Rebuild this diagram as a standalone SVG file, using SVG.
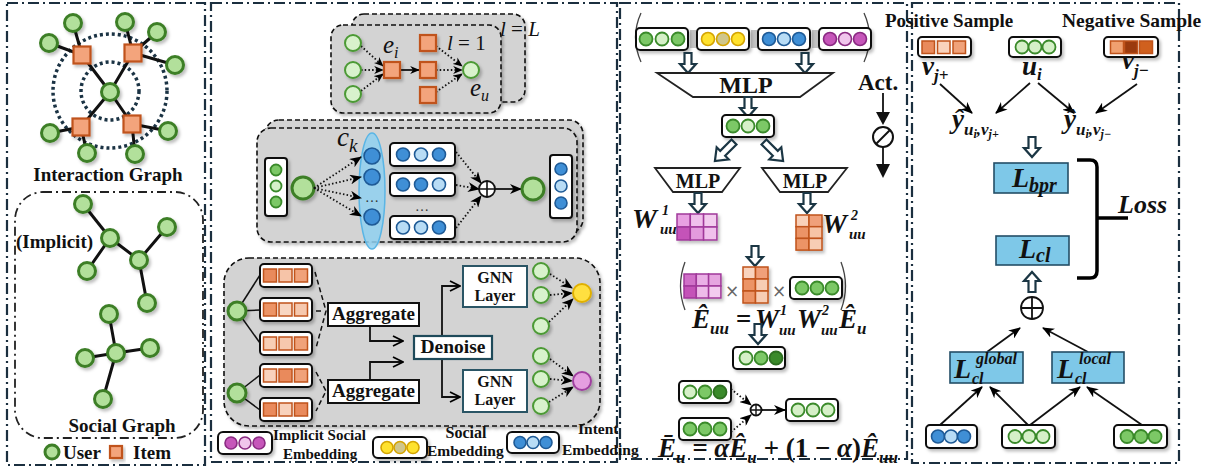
<svg xmlns="http://www.w3.org/2000/svg" width="1211" height="470" viewBox="0 0 1211 470">
<defs>
  <style>
    .pb{fill:none;stroke:#1b2f3f;stroke-width:2.2;stroke-dasharray:11 4 2 4}
    .sb{fill:none;stroke:#222;stroke-width:1.8;stroke-dasharray:9 4 2 4}
    .gb{fill:#d3d3d3;stroke:#111;stroke-width:1.6;stroke-dasharray:5 3}
    .ed{stroke:#111;stroke-width:3;stroke-linecap:round}
    .U{fill:#b2e09b;stroke:#3d7f27;stroke-width:3}
    .I{fill:#f3a47c;stroke:#c0531b;stroke-width:2.2}
    .lg{fill:#d8f2cc;stroke:#4c9a35;stroke-width:2}
    .vb{fill:#fff;stroke:#111;stroke-width:2}
    .t{font-family:"Liberation Serif",serif;font-weight:bold;fill:#111}
    .m{font-family:"Liberation Serif",serif;font-style:italic;font-weight:bold;fill:#111}
    .mi{font-family:"Liberation Serif",serif;font-style:italic;fill:#111}
    .up{font-style:normal}
    .dt{fill:none;stroke:#111;stroke-width:1.8;stroke-dasharray:1.5 2.2}
    .sl{fill:none;stroke:#111;stroke-width:1.8}
    .ha{fill:#fff;stroke:#1b3644;stroke-width:2.2}
    .gm{fill:#7cc866;stroke:#3a8a2a;stroke-width:1.8}
    .gl{fill:#d6f0c8;stroke:#3a8a2a;stroke-width:1.8}
    .gd{fill:#3a8a2a;stroke:#2d6e20;stroke-width:1.8}
    .bm{fill:#3f8fd6;stroke:#1e5a96;stroke-width:1.6}
    .bl{fill:#b8dcf5;stroke:#1e5a96;stroke-width:1.6}
    .ym{fill:#ffe22e;stroke:#d4a400;stroke-width:1.6}
    .yk{fill:#cfc68c;stroke:#d4a400;stroke-width:1.6}
    .pm{fill:#c656ba;stroke:#8a2a82;stroke-width:1.6}
    .pl{fill:#f0c6ec;stroke:#8a2a82;stroke-width:1.6}
    .sq{stroke:#c0531b;stroke-width:1.5}
    .mp{stroke:#a0399a;stroke-width:1.5}
    .bx{fill:#7ec8e8;stroke:#234e66;stroke-width:1.6}
    .op{fill:#fff;stroke:#111;stroke-width:1.8}
    .gnn{fill:#fff;stroke:#2a5565;stroke-width:2}
    .sep{stroke:#777;stroke-width:0.9}
  </style>
  <marker id="ar" viewBox="0 0 12 10" refX="11" refY="5" markerWidth="12" markerHeight="10" markerUnits="userSpaceOnUse" orient="auto"><path d="M0,0 L12,5 L0,10 L3.5,5 Z" fill="#000"/></marker>
  <marker id="ars" viewBox="0 0 12 10" refX="11" refY="5" markerWidth="10" markerHeight="8" markerUnits="userSpaceOnUse" orient="auto"><path d="M0,0 L12,5 L0,10 L3.5,5 Z" fill="#000"/></marker>
  <marker id="chev" viewBox="0 0 12 12" refX="11" refY="6" markerWidth="12" markerHeight="12" markerUnits="userSpaceOnUse" orient="auto"><path d="M1,1 L11,6 L1,11" fill="none" stroke="#000" stroke-width="1.8"/></marker>
  <path id="ha" d="M-3.5,0 H3.5 V11 H8 L0,20 L-8,11 H-3.5 Z"/>
  <path id="ha2" d="M-3.5,0 H3.5 V16 H8.5 L0,27 L-8.5,16 H-3.5 Z"/>
  <filter id="sh" x="-20%" y="-20%" width="150%" height="170%"><feDropShadow dx="2" dy="2.5" stdDeviation="1.8" flood-color="#000" flood-opacity="0.25"/></filter>
</defs>
<rect width="1211" height="470" fill="#fff"/>

<!-- panel frames -->
<g id="frames">
  <rect class="pb" x="7" y="3" width="198" height="462"/>
  <rect class="pb" x="211" y="3" width="406" height="459"/>
  <rect class="pb" x="620" y="3" width="287" height="456"/>
  <rect class="pb" x="912" y="3" width="267" height="460"/>
</g>

<!-- ===== panel 1: graphs ===== -->
<g id="interaction-graph">
  <circle cx="110" cy="91" r="57" fill="none" stroke="#1b3344" stroke-width="3.5" stroke-dasharray="3 3"/>
  <circle cx="110" cy="91" r="29" fill="none" stroke="#1b3344" stroke-width="3.5" stroke-dasharray="3 3"/>
  <g class="ed">
    <line x1="82" y1="55" x2="73" y2="23"/><line x1="82" y1="55" x2="49" y2="43"/><line x1="82" y1="55" x2="110" y2="92"/>
    <line x1="133" y1="53" x2="125" y2="22"/><line x1="133" y1="53" x2="157" y2="32"/><line x1="133" y1="53" x2="175" y2="65"/><line x1="133" y1="53" x2="110" y2="92"/>
    <line x1="81" y1="127" x2="50" y2="133"/><line x1="81" y1="127" x2="87" y2="153"/><line x1="81" y1="127" x2="110" y2="92"/>
    <line x1="132" y1="124" x2="168" y2="131"/><line x1="132" y1="124" x2="135" y2="154"/><line x1="132" y1="124" x2="110" y2="92"/>
  </g>
  <g class="U" filter="url(#sh)">
    <circle cx="110" cy="92" r="8.5"/>
    <circle cx="73" cy="23" r="8.5"/><circle cx="125" cy="22" r="8.5"/><circle cx="157" cy="32" r="8.5"/><circle cx="175" cy="65" r="8.5"/>
    <circle cx="49" cy="43" r="8.5"/><circle cx="50" cy="133" r="8.5"/><circle cx="87" cy="153" r="8.5"/><circle cx="135" cy="154" r="8.5"/><circle cx="168" cy="131" r="8.5"/>
  </g>
  <g class="I" filter="url(#sh)">
    <rect x="73.5" y="46.5" width="17" height="17"/><rect x="124.5" y="44.5" width="17" height="17"/>
    <rect x="72.5" y="118.5" width="17" height="17"/><rect x="123.5" y="115.5" width="17" height="17"/>
  </g>
  <text class="t" x="108" y="181" font-size="19" text-anchor="middle">Interaction Graph</text>
</g>

<g id="social-graph">
  <rect class="sb" x="15" y="192" width="188" height="246" rx="28"/>
  <text class="t" x="16" y="248" font-size="19">(Implicit)</text>
  <g class="ed">
    <line x1="83" y1="204" x2="110" y2="238"/><line x1="110" y1="238" x2="87" y2="271"/><line x1="110" y1="238" x2="139" y2="260"/>
    <line x1="139" y1="260" x2="167" y2="227"/><line x1="139" y1="260" x2="147" y2="303"/>
    <line x1="116" y1="353" x2="109" y2="314"/><line x1="116" y1="353" x2="150" y2="348"/><line x1="116" y1="353" x2="85" y2="358"/><line x1="116" y1="353" x2="103" y2="399"/>
  </g>
  <g class="U" filter="url(#sh)">
    <circle cx="83" cy="204" r="8.5"/><circle cx="110" cy="238" r="8.5"/><circle cx="167" cy="227" r="8.5"/><circle cx="139" cy="260" r="8.5"/><circle cx="87" cy="271" r="8.5"/><circle cx="147" cy="303" r="8.5"/>
    <circle cx="109" cy="314" r="8.5"/><circle cx="116" cy="353" r="8.5"/><circle cx="150" cy="348" r="8.5"/><circle cx="85" cy="358" r="8.5"/><circle cx="103" cy="399" r="8.5"/>
  </g>
  <text class="t" x="122" y="432" font-size="19" text-anchor="middle">Social Graph</text>
</g>

<g id="legend-graph">
  <circle cx="52" cy="452" r="7" class="U" stroke-width="2.5"/>
  <text class="t" x="63" y="459" font-size="19">User</text>
  <rect x="110" y="446" width="12" height="12" class="I" filter="url(#sh)"/>
  <text class="t" x="133" y="459" font-size="19">Item</text>
</g>

<!-- ===== panel 2: encoder ===== -->
<g id="propagation">
  <rect class="gb" x="352" y="14" width="173" height="88" rx="12" filter="url(#sh)"/>
  <rect class="gb" x="331" y="25" width="170" height="88" rx="12" filter="url(#sh)"/>
  <text class="mi" x="500" y="36" font-size="21">l<tspan class="up"> = </tspan>L</text>
  <text class="mi" x="447" y="50" font-size="21">l<tspan class="up"> = 1</tspan></text>
  <text class="mi" x="383" y="53" font-size="25">e<tspan font-size="16" y="58">i</tspan></text>
  <text class="mi" x="470" y="96" font-size="25">e<tspan font-size="16" y="101">u</tspan></text>
  <g>
    <path class="dt" d="M361,46 L383,66" marker-end="url(#ars)"/>
    <path class="dt" d="M361,70 L383,70" marker-end="url(#ars)"/>
    <path class="dt" d="M361,91 L383,74" marker-end="url(#ars)"/>
    <path class="sl" d="M400,70 L419,70" marker-end="url(#ars)"/>
    <path class="dt" d="M436,46 L462,66" marker-end="url(#ars)"/>
    <path class="dt" d="M436,70 L462,70" marker-end="url(#ars)"/>
    <path class="dt" d="M436,92 L462,74" marker-end="url(#ars)"/>
  </g>
  <g class="lg" filter="url(#sh)">
    <circle cx="353" cy="43" r="8"/><circle cx="353" cy="70" r="8"/><circle cx="353" cy="94" r="8"/>
    <circle cx="471" cy="70" r="8"/>
  </g>
  <g class="I" filter="url(#sh)">
    <rect x="384" y="62" width="16" height="16"/>
    <rect x="420" y="35" width="16" height="16"/><rect x="420" y="62" width="16" height="16"/><rect x="420" y="87" width="16" height="16"/>
  </g>
</g>

<g id="intent-disentangle">
  <rect class="gb" x="265" y="120" width="318" height="113" rx="14" filter="url(#sh)"/>
  <rect class="gb" x="257" y="128" width="320" height="114" rx="14" filter="url(#sh)"/>
  <rect class="vb" x="265" y="158" width="22" height="58" rx="3" filter="url(#sh)"/>
  <circle class="gm" cx="276" cy="170" r="5.5"/><circle class="gl" cx="276" cy="186" r="5.5"/><circle class="gm" cx="276" cy="202" r="5.5"/>
  <circle class="U" cx="303" cy="188" r="11" filter="url(#sh)"/>
  <ellipse cx="372" cy="191" rx="13" ry="58" fill="#8fd0f0" fill-opacity="0.85" stroke="#5ab5e5" stroke-width="1.5"/>
  <path class="dt" d="M314,188 L361,157" marker-end="url(#ar)"/>
  <path class="dt" d="M314,188 L361,177" marker-end="url(#ar)"/>
  <path class="dt" d="M314,188 L361,198" marker-end="url(#ar)"/>
  <path class="dt" d="M314,188 L361,216" marker-end="url(#ar)"/>
  <g class="bm">
    <circle cx="372" cy="156" r="8"/><circle cx="372" cy="177" r="8"/><circle cx="372" cy="217" r="8"/>
  </g>
  <text x="372" y="202" font-family="Liberation Serif,serif" font-size="14" text-anchor="middle" fill="#333">…</text>
  <text class="mi" x="337" y="146" font-size="27">c<tspan font-size="19" y="152">k</tspan></text>
  <g filter="url(#sh)">
    <rect class="vb" x="390" y="143" width="65" height="23" rx="4"/>
    <rect class="vb" x="390" y="173" width="65" height="23" rx="4"/>
    <rect class="vb" x="390" y="216" width="65" height="23" rx="4"/>
  </g>
  <circle class="bm" cx="403" cy="154.5" r="6.5"/><circle class="bl" cx="421" cy="154.5" r="6.5"/><circle class="bm" cx="439" cy="154.5" r="6.5"/>
  <circle class="bm" cx="403" cy="184.5" r="6.5"/><circle class="bm" cx="421" cy="184.5" r="6.5"/><circle class="bl" cx="439" cy="184.5" r="6.5"/>
  <circle class="bl" cx="403" cy="227.5" r="6.5"/><circle class="bl" cx="421" cy="227.5" r="6.5"/><circle class="bm" cx="439" cy="227.5" r="6.5"/>
  <text x="422" y="211" font-family="Liberation Serif,serif" font-size="14" text-anchor="middle" fill="#333">…</text>
  <path class="dt" d="M456,152 L481,183" marker-end="url(#ar)"/>
  <path class="dt" d="M456,185 L479,189" marker-end="url(#ar)"/>
  <path class="dt" d="M456,228 L481,196" marker-end="url(#ar)"/>
  <circle class="op" cx="487" cy="189" r="8"/>
  <path d="M479,189 H495 M487,181 V197" stroke="#111" stroke-width="1.6"/>
  <path class="sl" d="M495,189 L521,189" marker-end="url(#ar)"/>
  <circle class="U" cx="533" cy="189" r="11" filter="url(#sh)"/>
  <rect class="vb" x="550" y="155" width="22" height="63" rx="3" filter="url(#sh)"/>
  <circle class="bm" cx="561" cy="169" r="6"/><circle class="bl" cx="561" cy="186" r="6"/><circle class="bm" cx="561" cy="203" r="6"/>
</g>

<g id="denoise-block">
  <rect class="gb" x="224" y="258" width="376" height="168" rx="25" filter="url(#sh)"/>
  <g stroke="#111" stroke-width="1.5">
    <line x1="237" y1="311" x2="260" y2="275"/><line x1="237" y1="311" x2="260" y2="310"/><line x1="237" y1="311" x2="260" y2="343"/>
    <line x1="237" y1="393" x2="260" y2="375"/><line x1="237" y1="393" x2="260" y2="410"/>
  </g>
  <g class="U" filter="url(#sh)"><circle cx="237" cy="311" r="9"/><circle cx="237" cy="393" r="9"/></g>
  <g filter="url(#sh)">
    <rect class="vb" x="260" y="264" width="52" height="23" rx="4"/>
    <rect class="vb" x="260" y="298" width="52" height="23" rx="4"/>
    <rect class="vb" x="260" y="332" width="52" height="23" rx="4"/>
    <rect class="vb" x="260" y="364" width="52" height="23" rx="4"/>
    <rect class="vb" x="260" y="398" width="52" height="23" rx="4"/>
  </g>
  <g class="sq">
    <rect x="263.5" y="269" width="13" height="13" fill="#e98a5c"/><rect x="279" y="269" width="13" height="13" fill="#f6c4a8"/><rect x="294.5" y="269" width="13" height="13" fill="#f0a27a"/>
    <rect x="263.5" y="303" width="13" height="13" fill="#ec9466"/><rect x="279" y="303" width="13" height="13" fill="#f8d6c2"/><rect x="294.5" y="303" width="13" height="13" fill="#f6c8ae"/>
    <rect x="263.5" y="337" width="13" height="13" fill="#f7cdb4"/><rect x="279" y="337" width="13" height="13" fill="#f6c8ae"/><rect x="294.5" y="337" width="13" height="13" fill="#f0a27a"/>
    <rect x="263.5" y="369" width="13" height="13" fill="#f8d2bc"/><rect x="279" y="369" width="13" height="13" fill="#e98a5c"/><rect x="294.5" y="369" width="13" height="13" fill="#f0a27a"/>
    <rect x="263.5" y="403" width="13" height="13" fill="#e98a5c"/><rect x="279" y="403" width="13" height="13" fill="#f8d2bc"/><rect x="294.5" y="403" width="13" height="13" fill="#e98a5c"/>
  </g>
  <g fill="none" stroke="#111" stroke-width="1.5" stroke-dasharray="5 3">
    <path d="M315,272 L326,311 L316,348"/>
    <path d="M316,311 H323"/>
    <path d="M316,372 L326,391 L316,411"/>
  </g>
  <rect x="328" y="303" width="91" height="23" fill="#fff" stroke="#111" stroke-width="2"/>
  <text class="t" x="373.5" y="320" font-size="19" text-anchor="middle">Aggregate</text>
  <rect x="328" y="380" width="91" height="23" fill="#fff" stroke="#111" stroke-width="2"/>
  <text class="t" x="373.5" y="397" font-size="19" text-anchor="middle">Aggregate</text>
  <path class="sl" d="M370,326 V341 H403" marker-end="url(#chev)"/>
  <path class="sl" d="M370,380 V362 H403" marker-end="url(#chev)"/>
  <path class="sl" d="M458,286 H442 V397 H458"/>
  <path class="sl" d="M442,286 H460" marker-end="url(#chev)"/>
  <path class="sl" d="M442,397 H460" marker-end="url(#chev)"/>
  <rect x="414" y="336" width="78" height="23" fill="#fff" stroke="#1e4a5a" stroke-width="2.2"/>
  <text class="t" x="453" y="353" font-size="19.5" text-anchor="middle">Denoise</text>
  <rect class="gnn" x="463" y="266" width="64" height="41"/>
  <text class="t" x="495" y="283" font-size="16" text-anchor="middle">GNN</text>
  <text class="t" x="495" y="301" font-size="16" text-anchor="middle">Layer</text>
  <rect class="gnn" x="463" y="370" width="64" height="42"/>
  <text class="t" x="495" y="387" font-size="16" text-anchor="middle">GNN</text>
  <text class="t" x="495" y="405" font-size="16" text-anchor="middle">Layer</text>
  <g>
    <path class="dt" d="M550,274 L572,288" marker-end="url(#ar)"/>
    <path class="dt" d="M550,295 L572,293" marker-end="url(#ar)"/>
    <path class="dt" d="M549,322 L573,299" marker-end="url(#ar)"/>
    <path class="dt" d="M550,359 L573,376" marker-end="url(#ar)"/>
    <path class="dt" d="M550,379 L572,381" marker-end="url(#ar)"/>
    <path class="dt" d="M549,402 L573,387" marker-end="url(#ar)"/>
  </g>
  <g class="lg" filter="url(#sh)">
    <circle cx="541" cy="271" r="8"/><circle cx="541" cy="295" r="8"/><circle cx="541" cy="326" r="8"/>
    <circle cx="541" cy="356" r="8"/><circle cx="541" cy="379" r="8"/><circle cx="541" cy="406" r="8"/>
  </g>
  <circle cx="582" cy="293" r="9" fill="#ffe040" stroke="#e0b000" stroke-width="2" filter="url(#sh)"/>
  <circle cx="582" cy="381" r="9" fill="#e59fe0" stroke="#a040a0" stroke-width="2" filter="url(#sh)"/>
</g>

<g id="legend-embedding">
  <rect class="vb" x="218" y="432" width="54" height="22" rx="5" filter="url(#sh)"/>
  <circle class="pm" cx="231" cy="443" r="6"/><circle class="pl" cx="245" cy="443" r="6"/><circle class="pm" cx="259" cy="443" r="6"/>
  <text class="t" x="273" y="440" font-size="15">Implicit Social</text>
  <text class="t" x="283" y="459" font-size="15">Embedding</text>
  <rect class="vb" x="373" y="437" width="54" height="21" rx="5" filter="url(#sh)"/>
  <circle class="ym" cx="387" cy="447.5" r="6"/><circle class="yk" cx="400" cy="447.5" r="6"/><circle class="ym" cx="413" cy="447.5" r="6"/>
  <text class="t" x="466" y="438" font-size="16" text-anchor="middle">Social</text>
  <text class="t" x="427" y="456" font-size="15.5">Embedding</text>
  <rect class="vb" x="507" y="432" width="52" height="21" rx="5" filter="url(#sh)"/>
  <circle class="bm" cx="520" cy="442.5" r="6"/><circle class="bl" cx="533" cy="442.5" r="6"/><circle class="bm" cx="546" cy="442.5" r="6"/>
  <text class="t" x="578" y="434" font-size="15.5">Intent</text>
  <text class="t" x="562" y="455" font-size="15.5">Embedding</text>
</g>

<!-- ===== panel 3: fusion ===== -->
<g id="concat-mlp">
  <path d="M641,13 Q630,37 641,62" fill="none" stroke="#444" stroke-width="1.3"/>
  <path d="M864,13 Q875,37 864,62" fill="none" stroke="#444" stroke-width="1.3"/>
  <g filter="url(#sh)">
    <rect class="vb" x="636" y="28" width="52" height="22" rx="4"/>
    <rect class="vb" x="697" y="28" width="52" height="22" rx="4"/>
    <rect class="vb" x="758" y="28" width="52" height="22" rx="4"/>
    <rect class="vb" x="819" y="28" width="52" height="22" rx="4"/>
  </g>
  <circle class="gm" cx="646" cy="39" r="6.5"/><circle class="gl" cx="662" cy="39" r="6.5"/><circle class="gm" cx="678" cy="39" r="6.5"/>
  <circle class="ym" cx="708" cy="39" r="6.5"/><circle class="yk" cx="723" cy="39" r="6.5"/><circle class="ym" cx="738" cy="39" r="6.5"/>
  <circle class="bm" cx="769" cy="39" r="6.5"/><circle class="bl" cx="784" cy="39" r="6.5"/><circle class="bm" cx="799" cy="39" r="6.5"/>
  <circle class="pm" cx="830" cy="39" r="6.5"/><circle class="pl" cx="845" cy="39" r="6.5"/><circle class="pm" cx="860" cy="39" r="6.5"/>
  <g class="sep">
    <line x1="691" y1="30" x2="691" y2="48"/><line x1="693" y1="30" x2="693" y2="48"/><line x1="695" y1="30" x2="695" y2="48"/>
    <line x1="752" y1="30" x2="752" y2="48"/><line x1="754" y1="30" x2="754" y2="48"/><line x1="756" y1="30" x2="756" y2="48"/>
    <line x1="813" y1="30" x2="813" y2="48"/><line x1="815" y1="30" x2="815" y2="48"/><line x1="817" y1="30" x2="817" y2="48"/>
  </g>
  <use href="#ha" class="ha" transform="translate(688,53)"/>
  <use href="#ha" class="ha" transform="translate(805,53)"/>
  <polygon points="657,73 833,73 800,97 693,97" fill="#fff" stroke="#222" stroke-width="1.8"/>
  <text class="t" x="746" y="93" font-size="24" text-anchor="middle">MLP</text>
  <use href="#ha" class="ha" transform="translate(748,97)"/>
  <rect class="vb" x="722" y="115" width="52" height="22" rx="4" filter="url(#sh)"/>
  <circle class="gm" cx="733" cy="126" r="6.5"/><circle class="gl" cx="748" cy="126" r="6.5"/><circle class="gm" cx="763" cy="126" r="6.5"/>
  <use href="#ha2" class="ha" transform="translate(734,142) rotate(45)"/>
  <use href="#ha2" class="ha" transform="translate(764,142) rotate(-45)"/>
  <polygon points="655,168 740,168 722,192 673,192" fill="#fff" stroke="#222" stroke-width="1.8"/>
  <text class="t" x="698" y="188" font-size="20" text-anchor="middle">MLP</text>
  <polygon points="762,168 847,168 828,192 780,192" fill="#fff" stroke="#222" stroke-width="1.8"/>
  <text class="t" x="805" y="188" font-size="20" text-anchor="middle">MLP</text>
  <use href="#ha" class="ha" transform="translate(698,193)"/>
  <use href="#ha" class="ha" transform="translate(807,193)"/>
</g>

<g id="weight-matrices">
  <g class="mp" filter="url(#sh)">
    <rect x="677" y="214" width="13.3" height="13" fill="#e8a0e2"/><rect x="690.3" y="214" width="13.3" height="13" fill="#f0c0ec"/><rect x="703.6" y="214" width="13.3" height="13" fill="#f3ccef"/>
    <rect x="677" y="227" width="13.3" height="13" fill="#c452b8"/><rect x="690.3" y="227" width="13.3" height="13" fill="#e39bdd"/><rect x="703.6" y="227" width="13.3" height="13" fill="#f0c0ec"/>
  </g>
  <text class="m" x="632" y="228" font-size="28">W</text>
  <text class="m" x="662" y="215" font-size="14">1</text>
  <text class="m" x="660" y="234" font-size="15">uu</text>
  <g class="sq" filter="url(#sh)">
    <rect x="796" y="215" width="13" height="11.7" fill="#f9d0b8"/><rect x="809" y="215" width="13" height="11.7" fill="#f0a07a"/>
    <rect x="796" y="226.7" width="13" height="11.7" fill="#ec9466"/><rect x="809" y="226.7" width="13" height="11.7" fill="#f7c4a6"/>
    <rect x="796" y="238.4" width="13" height="11.7" fill="#ec9466"/><rect x="809" y="238.4" width="13" height="11.7" fill="#f7cdb4"/>
  </g>
  <text class="m" x="822" y="233" font-size="28">W</text>
  <text class="m" x="851" y="220" font-size="14">2</text>
  <text class="m" x="849" y="239" font-size="15">uu</text>
</g>

<g id="act">
  <text class="t" x="858" y="90" font-size="23">Act.</text>
  <line x1="883" y1="93" x2="883" y2="113" stroke="#111" stroke-width="1.8"/>
  <polygon points="876,112 890,112 883,125" fill="#111"/>
  <circle cx="883" cy="137" r="10" fill="#fff" stroke="#111" stroke-width="2"/>
  <line x1="876" y1="144" x2="890" y2="130" stroke="#111" stroke-width="2"/>
  <line x1="883" y1="147" x2="883" y2="165" stroke="#111" stroke-width="1.8"/>
  <polygon points="876,164 890,164 883,178" fill="#111"/>
</g>

<g id="social-transform">
  <use href="#ha" class="ha" transform="translate(755,246)"/>
  <path d="M685,262 Q676,286 685,310" fill="none" stroke="#444" stroke-width="1.3"/>
  <path d="M841,262 Q850,286 841,310" fill="none" stroke="#444" stroke-width="1.3"/>
  <g class="mp" filter="url(#sh)">
    <rect x="684" y="274" width="12.3" height="12" fill="#d070c8"/><rect x="696.3" y="274" width="12.3" height="12" fill="#eab0e6"/><rect x="708.6" y="274" width="12.3" height="12" fill="#e6a6e0"/>
    <rect x="684" y="286" width="12.3" height="12" fill="#c452b8"/><rect x="696.3" y="286" width="12.3" height="12" fill="#eebbe9"/><rect x="708.6" y="286" width="12.3" height="12" fill="#f3ccef"/>
  </g>
  <text x="732" y="297" font-family="DejaVu Sans,sans-serif" font-size="17" fill="#666" text-anchor="middle">×</text>
  <g class="sq" filter="url(#sh)">
    <rect x="743" y="267" width="12.5" height="12" fill="#f9d3bd"/><rect x="755.5" y="267" width="12.5" height="12" fill="#f0a07a"/>
    <rect x="743" y="279" width="12.5" height="12" fill="#ec9466"/><rect x="755.5" y="279" width="12.5" height="12" fill="#f7cdb4"/>
    <rect x="743" y="291" width="12.5" height="12" fill="#ec9466"/><rect x="755.5" y="291" width="12.5" height="12" fill="#f7cdb4"/>
  </g>
  <text x="779" y="297" font-family="DejaVu Sans,sans-serif" font-size="17" fill="#666" text-anchor="middle">×</text>
  <rect class="vb" x="790" y="277" width="52" height="22" rx="4" filter="url(#sh)"/>
  <circle class="gm" cx="802" cy="288" r="6.5"/><circle class="gm" cx="817" cy="288" r="6.5"/><circle class="gm" cx="832" cy="288" r="6.5"/>
  <!-- Ê_uu = W1_uu W2_uu Ê_u -->
  <text class="m" x="692" y="328" font-size="27">Ê<tspan font-size="17" y="334">uu</tspan><tspan y="328"> = </tspan></text>
  <text class="m" x="755" y="328" font-size="27">W</text>
  <text class="m" x="780" y="315" font-size="14">1</text>
  <text class="m" x="779" y="335" font-size="15">uu</text>
  <text class="m" x="797" y="328" font-size="27">W</text>
  <text class="m" x="822" y="315" font-size="14">2</text>
  <text class="m" x="821" y="335" font-size="15">uu</text>
  <text class="m" x="839" y="328" font-size="27">Ê<tspan font-size="17" y="334">u</tspan></text>
  <use href="#ha" class="ha" transform="translate(758,324)"/>
  <rect class="vb" x="733" y="347" width="52" height="22" rx="4" filter="url(#sh)"/>
  <circle class="gl" cx="746" cy="358" r="6.5"/><circle class="gm" cx="761" cy="358" r="6.5"/><circle class="gd" cx="776" cy="358" r="6.5"/>
</g>

<g id="fusion">
  <g filter="url(#sh)">
    <rect class="vb" x="679" y="381" width="52" height="22" rx="4"/>
    <rect class="vb" x="679" y="418" width="52" height="22" rx="4"/>
    <rect class="vb" x="786" y="399" width="52" height="22" rx="4"/>
  </g>
  <circle class="gl" cx="690" cy="392" r="6.5"/><circle class="gm" cx="705" cy="392" r="6.5"/><circle class="gd" cx="720" cy="392" r="6.5"/>
  <circle class="gm" cx="690" cy="429" r="6.5"/><circle class="gm" cx="705" cy="429" r="6.5"/><circle class="gm" cx="720" cy="429" r="6.5"/>
  <circle class="gl" cx="798" cy="410" r="6.5"/><circle class="gl" cx="813" cy="410" r="6.5"/><circle class="gl" cx="828" cy="410" r="6.5"/>
  <path class="dt" d="M731,389 L751,405" marker-end="url(#ar)"/>
  <path class="dt" d="M731,432 L751,415" marker-end="url(#ar)"/>
  <circle class="op" cx="756" cy="410" r="5.5"/>
  <path d="M750.5,410 H761.5 M756,404.5 V415.5" stroke="#111" stroke-width="1.4"/>
  <path class="sl" d="M762,410 L785,410" marker-end="url(#ar)"/>
  <text class="m" x="658" y="457" font-size="27">Ē<tspan font-size="17" y="463">u</tspan><tspan y="457"> = αÊ</tspan><tspan font-size="17" y="463">u</tspan><tspan y="457"> + </tspan><tspan class="up">(1 − </tspan><tspan>α</tspan><tspan class="up">)</tspan><tspan>Ê</tspan><tspan font-size="17" y="463">uu</tspan></text>
</g>

<!-- ===== panel 4: objectives ===== -->
<g id="samples">
  <text class="t" x="885" y="27" font-size="19">Positive Sample</text>
  <text class="t" x="1062" y="27" font-size="19.5">Negative Sample</text>
  <g filter="url(#sh)">
    <rect class="vb" x="918" y="37" width="53" height="20" rx="4"/>
    <rect class="vb" x="1009" y="37" width="52" height="20" rx="4"/>
    <rect class="vb" x="1104" y="37" width="54" height="20" rx="4"/>
  </g>
  <g class="sq">
    <rect x="922" y="41" width="12.5" height="12.5" fill="#e98a5c"/><rect x="937.5" y="41" width="12.5" height="12.5" fill="#f9d3bd"/><rect x="953" y="41" width="12.5" height="12.5" fill="#f0a27a"/>
    <rect x="1110.5" y="41" width="13" height="12.5" fill="#f0a070"/><rect x="1124.5" y="41" width="13" height="12.5" fill="#9a3a0e"/><rect x="1139.5" y="41" width="13" height="12.5" fill="#d0601e"/>
  </g>
  <circle class="gl" cx="1022" cy="47" r="6.5"/><circle class="gl" cx="1035" cy="47" r="6.5"/><circle class="gl" cx="1049" cy="47" r="6.5"/>
  <text class="m" x="922" y="75" font-size="27">v<tspan font-size="17" y="81">j+</tspan></text>
  <text class="m" x="1022" y="75" font-size="27">u<tspan font-size="17" y="80">i</tspan></text>
  <text class="m" x="1122" y="69" font-size="27">v<tspan font-size="17" y="76">j−</tspan></text>
  <path class="sl" d="M940,84 L972,113" marker-end="url(#ar)"/>
  <path class="sl" d="M1030,83 L996,113" marker-end="url(#ar)"/>
  <path class="sl" d="M1038,83 L1074,113" marker-end="url(#ar)"/>
  <path class="sl" d="M1137,84 L1096,113" marker-end="url(#ar)"/>
  <text class="m" x="952" y="128" font-size="27">ŷ<tspan font-size="17" y="135">u</tspan><tspan font-size="12" y="138">i</tspan><tspan font-size="17" y="135">,v</tspan><tspan font-size="12" y="138">j+</tspan></text>
  <text class="m" x="1064" y="128" font-size="27">ŷ<tspan font-size="17" y="135">u</tspan><tspan font-size="12" y="138">i</tspan><tspan font-size="17" y="135">,v</tspan><tspan font-size="12" y="138">j−</tspan></text>
  <use href="#ha" class="ha" transform="translate(1032,137)"/>
</g>

<g id="loss">
  <rect class="bx" x="994" y="163" width="74" height="30"/>
  <text class="m" x="1012" y="187" font-size="28">L<tspan font-size="20" y="192">bpr</tspan></text>
  <rect class="bx" x="996" y="236" width="73" height="29"/>
  <text class="m" x="1019" y="258" font-size="28">L<tspan font-size="20" y="262">cl</tspan></text>
  <path d="M1077,160 H1090 Q1097,160 1097,167 V271 Q1097,278 1090,278 H1077 M1097,218 H1128" fill="none" stroke="#000" stroke-width="3.5"/>
  <text class="m" x="1118" y="213" font-size="26">Loss</text>
  <use href="#ha" class="ha" transform="translate(1032,292) rotate(180)"/>
  <circle class="op" cx="1032" cy="308" r="11" stroke-width="2"/>
  <path d="M1021,308 H1043 M1032,297 V319" stroke="#111" stroke-width="1.8"/>
  <path class="sl" d="M987,352 L1020,328" marker-end="url(#ar)"/>
  <path class="sl" d="M1088,352 L1043,328" marker-end="url(#ar)"/>
  <rect class="bx" x="950" y="352" width="73" height="31"/>
  <text class="m" x="954" y="378" font-size="28">L</text>
  <text class="m" x="976" y="364" font-size="16">global</text>
  <text class="m" x="972" y="384" font-size="16">cl</text>
  <rect class="bx" x="1052" y="352" width="72" height="31"/>
  <text class="m" x="1057" y="378" font-size="28">L</text>
  <text class="m" x="1079" y="364" font-size="16">local</text>
  <text class="m" x="1075" y="384" font-size="16">cl</text>
  <path class="sl" d="M940,425 L982,387" marker-end="url(#ar)"/>
  <path class="sl" d="M1028,425 L990,387" marker-end="url(#ar)"/>
  <path class="sl" d="M1030,425 L1080,387" marker-end="url(#ar)"/>
  <path class="sl" d="M1142,425 L1087,387" marker-end="url(#ar)"/>
  <g filter="url(#sh)">
    <rect class="vb" x="926" y="425" width="51" height="23" rx="4"/>
    <rect class="vb" x="1002" y="425" width="53" height="23" rx="4"/>
    <rect class="vb" x="1114" y="425" width="53" height="23" rx="4"/>
  </g>
  <circle class="bm" cx="938" cy="436.5" r="6.5"/><circle class="bl" cx="951" cy="436.5" r="6.5"/><circle class="bm" cx="964" cy="436.5" r="6.5"/>
  <circle class="gl" cx="1015" cy="436.5" r="6.5"/><circle class="gl" cx="1029" cy="436.5" r="6.5"/><circle class="gl" cx="1043" cy="436.5" r="6.5"/>
  <circle class="gm" cx="1127" cy="436.5" r="6.5"/><circle class="gm" cx="1141" cy="436.5" r="6.5"/><circle class="gm" cx="1155" cy="436.5" r="6.5"/>
</g>
</svg>
